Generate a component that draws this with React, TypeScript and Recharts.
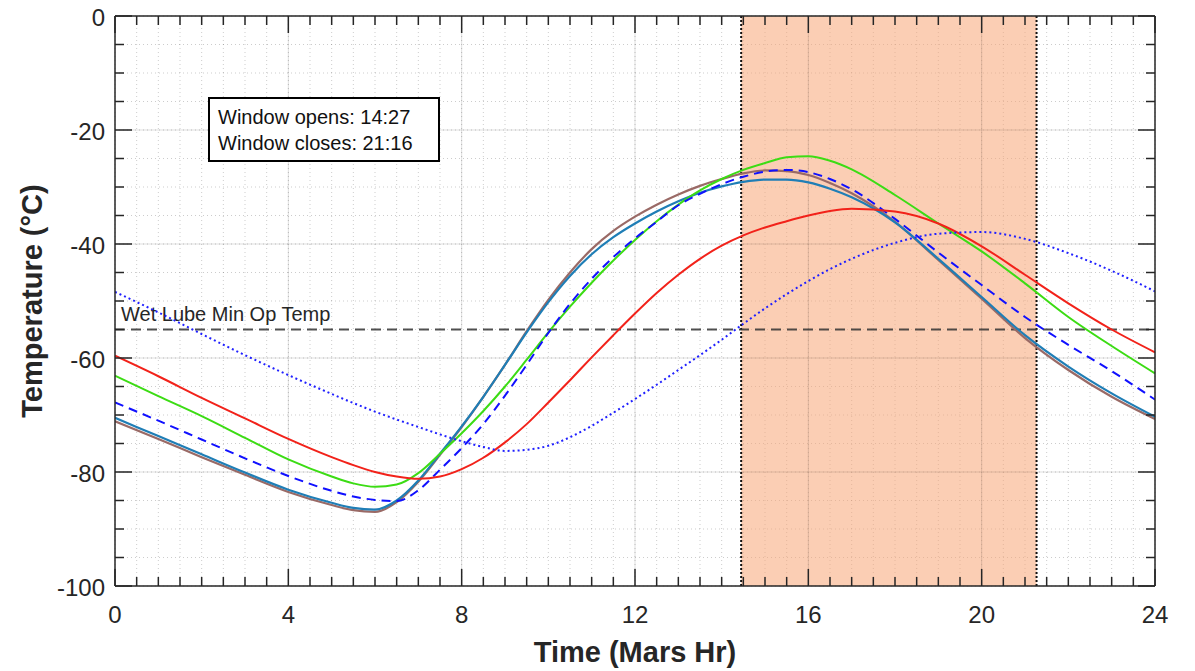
import React from "react";
import {
  LineChart,
  Line,
  XAxis,
  YAxis,
  CartesianGrid,
  ReferenceLine,
  ReferenceArea,
} from "recharts";

// Mars local time (hours) at which each temperature profile is sampled
const HOURS = [0, 1, 2, 3, 4, 5, 5.5, 6, 6.5, 7, 7.5, 8, 8.5, 9, 9.5, 10, 10.5, 11, 11.5, 12, 12.5, 13, 13.5, 14, 14.5, 15, 15.5, 16, 16.5, 17, 18, 19, 20, 21, 22, 23, 24];

// temperature profiles (°C)
const TEMP_BROWN = [-71.1, -74.2, -77.4, -80.5, -83.5, -85.8, -86.7, -87.0, -85.3, -81.7, -77.0, -72.1, -66.8, -61.2, -55.3, -49.8, -45.0, -40.9, -37.7, -35.2, -33.1, -31.3, -29.8, -28.6, -27.6, -27.1, -27.2, -27.9, -29.3, -31.1, -36.1, -42.8, -49.6, -56.5, -62.1, -66.8, -70.7];
const TEMP_TEAL = [-70.5, -73.7, -76.9, -80.1, -83.1, -85.4, -86.3, -86.6, -85.0, -81.5, -76.8, -72.0, -66.8, -61.2, -55.5, -50.2, -45.6, -41.8, -38.8, -36.4, -34.3, -32.5, -31.0, -29.9, -29.1, -28.7, -28.7, -29.2, -30.3, -31.8, -36.2, -42.6, -49.3, -56.0, -61.5, -66.2, -70.3];
const TEMP_GREEN = [-63.1, -66.7, -70.2, -74.0, -77.8, -80.8, -82.0, -82.6, -82.2, -80.2, -76.8, -73.2, -69.3, -65.0, -60.3, -55.5, -51.0, -46.8, -42.9, -39.3, -36.0, -33.1, -30.6, -28.6, -27.0, -25.8, -24.8, -24.6, -25.4, -26.9, -31.4, -36.4, -41.3, -46.9, -52.8, -57.9, -62.7];
const TEMP_DASHED = [-67.8, -71.0, -74.3, -77.6, -80.7, -83.3, -84.3, -84.9, -85.1, -83.2, -79.6, -75.8, -71.6, -66.6, -61.2, -55.6, -50.5, -46.1, -42.3, -39.0, -36.1, -33.2, -31.2, -29.5, -28.2, -27.3, -27.0, -27.4, -28.6, -30.4, -35.6, -41.5, -47.2, -52.8, -57.7, -62.3, -67.3];
const TEMP_RED = [-59.6, -63.2, -67.0, -70.6, -74.2, -77.4, -78.8, -80.0, -80.8, -81.2, -80.8, -79.5, -77.5, -74.8, -71.6, -67.8, -63.9, -59.9, -56.0, -52.2, -48.6, -45.4, -42.6, -40.3, -38.5, -37.1, -36.0, -35.0, -34.2, -33.8, -34.3, -36.4, -40.4, -45.4, -50.4, -55.0, -59.0];
const TEMP_DOTTED = [-48.4, -52.0, -55.8, -59.5, -63.0, -66.3, -67.9, -69.4, -70.8, -72.1, -73.4, -74.6, -75.6, -76.3, -76.1, -75.4, -73.9, -71.9, -69.6, -67.2, -64.7, -62.1, -59.5, -56.8, -54.0, -51.3, -48.8, -46.5, -44.4, -42.6, -39.8, -38.2, -37.9, -39.1, -41.6, -44.7, -48.3];

const MIN_OP_TEMP = -55;
const WINDOW_OPEN = 14 + 27 / 60;
const WINDOW_CLOSE = 21 + 16 / 60;

// axis ticks: labelled majors, unlabelled minors
const MAJOR_X = [0, 4, 8, 12, 16, 20, 24];
const MAJOR_Y = [-100, -80, -60, -40, -20, 0];
const MINOR_X = Array.from({ length: 49 }, (_, i) => i * 0.5);
const MINOR_Y = Array.from({ length: 21 }, (_, i) => -100 + i * 5);

const rows = HOURS.map((h, i) => ({
  h,
  brown: TEMP_BROWN[i],
  teal: TEMP_TEAL[i],
  green: TEMP_GREEN[i],
  dashed: TEMP_DASHED[i],
  red: TEMP_RED[i],
  dotted: TEMP_DOTTED[i],
}));

const FONT = "'Liberation Sans', Arial, Helvetica, sans-serif";
const INK = "#262626";
const MAJOR_LEN = 17;
const MINOR_LEN = 9;

const BottomTick = (p: any) => {
  const v = p.payload.value;
  const major = MAJOR_X.includes(v);
  return (
    <g>
      <line x1={p.x} x2={p.x} y1={p.y} y2={p.y - (major ? MAJOR_LEN : MINOR_LEN)} stroke={INK} strokeWidth={1.5} />
      {major && (
        <text x={p.x} y={p.y + 37} textAnchor="middle" fontSize={24} fill={INK} fontFamily={FONT}>
          {v}
        </text>
      )}
    </g>
  );
};

const TopTick = (p: any) => {
  const major = MAJOR_X.includes(p.payload.value);
  return <line x1={p.x} x2={p.x} y1={p.y} y2={p.y + (major ? MAJOR_LEN : MINOR_LEN)} stroke={INK} strokeWidth={1.5} />;
};

const LeftTick = (p: any) => {
  const v = p.payload.value;
  const major = MAJOR_Y.includes(v);
  return (
    <g>
      <line x1={p.x} x2={p.x + (major ? MAJOR_LEN : MINOR_LEN)} y1={p.y} y2={p.y} stroke={INK} strokeWidth={1.5} />
      {major && (
        <text x={p.x - 10} y={p.y + 10} textAnchor="end" fontSize={24} fill={INK} fontFamily={FONT}>
          {v}
        </text>
      )}
    </g>
  );
};

const RightTick = (p: any) => {
  const major = MAJOR_Y.includes(p.payload.value);
  return <line x1={p.x} x2={p.x - (major ? MAJOR_LEN : MINOR_LEN)} y1={p.y} y2={p.y} stroke={INK} strokeWidth={1.5} />;
};

const XTitle = (p: any) => {
  const vb = p.viewBox;
  return (
    <text x={vb.x + vb.width / 2} y={vb.y + 76} textAnchor="middle" fontSize={29} fontWeight="bold" fill={INK} fontFamily={FONT}>
      Time (Mars Hr)
    </text>
  );
};

const YTitle = (p: any) => {
  const vb = p.viewBox;
  const cx = 42;
  const cy = vb.y + vb.height / 2;
  return (
    <text x={cx} y={cy} transform={`rotate(-90, ${cx}, ${cy})`} textAnchor="middle" fontSize={29} fontWeight="bold" fill={INK} fontFamily={FONT}>
      Temperature (°C)
    </text>
  );
};

const MinOpLabel = (p: any) => {
  const vb = p.viewBox;
  return (
    <text x={vb.x + 6} y={vb.y - 8.5} fontSize={20} fill={INK} fontFamily={FONT}>
      Wet Lube Min Op Temp
    </text>
  );
};

const axisLine = { stroke: INK, strokeWidth: 1.5 };

export default function App() {
  return (
    <div style={{ position: "absolute", left: 0, top: 0, width: 1195, height: 671, background: "#fff", fontFamily: FONT }}>
      <LineChart width={1195} height={671} data={rows} margin={{ top: 0, right: 0, bottom: 0, left: 0 }}>
        <ReferenceArea x1={WINDOW_OPEN} x2={WINDOW_CLOSE} y1={-100} y2={0} fill="#f7a577" fillOpacity={0.55} stroke="none" />
        <CartesianGrid stroke="#000" strokeOpacity={0.2} strokeDasharray="1 3" />
        {MAJOR_X.slice(1, -1).map((v) => (
          <ReferenceLine key={"gx" + v} x={v} stroke="#000" strokeOpacity={0.13} strokeWidth={1} />
        ))}
        {MAJOR_Y.slice(1, -1).map((v) => (
          <ReferenceLine key={"gy" + v} y={v} stroke="#000" strokeOpacity={0.13} strokeWidth={1} />
        ))}

        <XAxis
          dataKey="h"
          type="number"
          domain={[0, 24]}
          ticks={MINOR_X}
          interval={0}
          tickSize={0}
          tickMargin={0}
          tickLine={false}
          tick={(p: any) => <BottomTick {...p} />}
          height={85}
          axisLine={axisLine}
          allowDataOverflow
          label={(p: any) => <XTitle {...p} />}
        />
        <XAxis
          xAxisId="top"
          dataKey="h"
          orientation="top"
          type="number"
          domain={[0, 24]}
          ticks={MINOR_X}
          interval={0}
          tickSize={0}
          tickMargin={0}
          tickLine={false}
          tick={(p: any) => <TopTick {...p} />}
          height={16}
          axisLine={axisLine}
          allowDataOverflow
        />
        <YAxis
          type="number"
          domain={[-100, 0]}
          ticks={MINOR_Y}
          interval={0}
          tickSize={0}
          tickMargin={0}
          tickLine={false}
          tick={(p: any) => <LeftTick {...p} />}
          width={115}
          axisLine={axisLine}
          allowDataOverflow
          label={(p: any) => <YTitle {...p} />}
        />
        <YAxis
          yAxisId="right"
          orientation="right"
          type="number"
          domain={[-100, 0]}
          ticks={MINOR_Y}
          interval={0}
          tickSize={0}
          tickMargin={0}
          tickLine={false}
          tick={(p: any) => <RightTick {...p} />}
          width={40}
          axisLine={axisLine}
          allowDataOverflow
        />

        <ReferenceLine x={WINDOW_OPEN} stroke="#111" strokeWidth={2} strokeDasharray="2 2" />
        <ReferenceLine x={WINDOW_CLOSE} stroke="#111" strokeWidth={2} strokeDasharray="2 2" />
        <ReferenceLine
          y={MIN_OP_TEMP}
          stroke="#333"
          strokeOpacity={0.85}
          strokeWidth={2}
          strokeDasharray="10 6"
          label={(p: any) => <MinOpLabel {...p} />}
        />

        <Line type="monotone" dataKey="brown" stroke="#9a6a66" strokeWidth={2.2} dot={false} activeDot={false} isAnimationActive={false} />
        <Line type="monotone" dataKey="teal" stroke="#1f7eb6" strokeWidth={2.2} dot={false} activeDot={false} isAnimationActive={false} />
        <Line type="monotone" dataKey="green" stroke="#3cdc14" strokeWidth={2} dot={false} activeDot={false} isAnimationActive={false} />
        <Line type="monotone" dataKey="dashed" stroke="#1010ff" strokeWidth={2} strokeDasharray="9 6" dot={false} activeDot={false} isAnimationActive={false} />
        <Line type="monotone" dataKey="red" stroke="#f2221a" strokeWidth={2} dot={false} activeDot={false} isAnimationActive={false} />
        <Line type="monotone" dataKey="dotted" stroke="#2020ff" strokeWidth={2} strokeDasharray="2 3" dot={false} activeDot={false} isAnimationActive={false} />
      </LineChart>

      <div
        style={{
          position: "absolute",
          left: 208,
          top: 97,
          width: 232,
          height: 65,
          boxSizing: "border-box",
          border: "2px solid #000",
          background: "#fff",
          paddingLeft: 8,
          paddingTop: 5,
          fontSize: 20,
          lineHeight: "26px",
          color: "#111",
          whiteSpace: "nowrap",
        }}
      >
        <div>Window opens: 14:27</div>
        <div>Window closes: 21:16</div>
      </div>
    </div>
  );
}
